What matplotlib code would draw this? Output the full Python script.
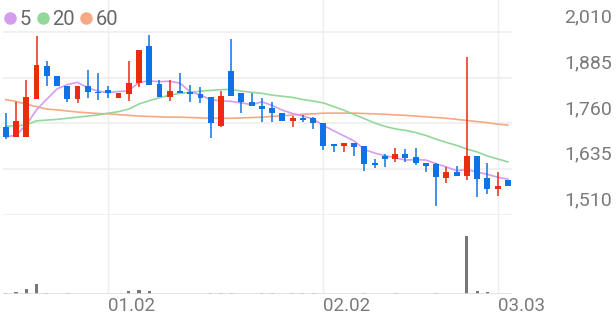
import numpy as np
import matplotlib
matplotlib.use('Agg')
import matplotlib.pyplot as plt
from matplotlib.lines import Line2D
from matplotlib.transforms import blended_transform_factory, offset_copy

plt.rcParams['font.family'] = ['Roboto', 'DejaVu Sans']

# daily candles (open, high, low, close)
opens = [1750, 1723, 1723, 1827, 1917, 1889, 1862, 1827, 1862, 1846,
         1851, 1829, 1840, 1870, 1971, 1867, 1832, 1848, 1846, 1840,
         1832, 1753, 1903, 1843, 1818, 1807, 1802, 1788, 1767, 1775,
         1775, 1761, 1704, 1698, 1706, 1698, 1652, 1671, 1663, 1676,
         1668, 1652, 1649, 1611, 1627, 1616, 1671, 1611, 1581, 1606]
highs = [1788, 1818, 1878, 1998, 1930, 1889, 1862, 1862, 1906, 1898,
         1862, 1843, 1930, 1960, 2001, 1878, 1878, 1898, 1865, 1859,
         1832, 1848, 1990, 1843, 1843, 1829, 1818, 1788, 1780, 1783,
         1777, 1761, 1704, 1706, 1706, 1698, 1663, 1676, 1693, 1690,
         1693, 1652, 1652, 1641, 1644, 1941, 1671, 1652, 1627, 1606]
lows = [1717, 1723, 1723, 1827, 1862, 1862, 1818, 1816, 1829, 1824,
        1829, 1829, 1821, 1859, 1865, 1832, 1821, 1843, 1818, 1816,
        1720, 1750, 1835, 1788, 1807, 1764, 1764, 1767, 1750, 1764,
        1745, 1687, 1682, 1682, 1671, 1630, 1638, 1641, 1655, 1655,
        1646, 1627, 1535, 1597, 1616, 1606, 1559, 1567, 1562, 1589]
closes = [1723, 1767, 1832, 1919, 1889, 1862, 1827, 1862, 1846, 1843,
          1843, 1843, 1870, 1960, 1865, 1832, 1848, 1843, 1840, 1829,
          1761, 1835, 1835, 1818, 1807, 1799, 1788, 1767, 1775, 1769,
          1761, 1698, 1698, 1706, 1696, 1649, 1646, 1663, 1676, 1666,
          1652, 1644, 1614, 1627, 1616, 1671, 1608, 1581, 1589, 1589]
volumes = [10, 35, 90, 175, 18, 8, 15, 8, 8, 6,
           6, 8, 50, 70, 55, 8, 8, 8, 8, 8,
           18, 18, 25, 8, 8, 15, 15, 8, 12, 12,
           12, 8, 6, 6, 8, 15, 6, 6, 15, 6,
           6, 6, 12, 6, 6, 1000, 50, 40, 5, 5]

ma5 = [1723, 1728, 1756, 1797, 1826, 1854, 1866, 1872, 1857, 1848,
       1844, 1847, 1849, 1872, 1876, 1874, 1875, 1870, 1846, 1838,
       1824, 1822, 1820, 1816, 1811, 1819, 1809, 1796, 1787, 1780,
       1772, 1754, 1740, 1726, 1712, 1689, 1679, 1672, 1666, 1660,
       1661, 1660, 1650, 1641, 1631, 1634, 1627, 1621, 1613, 1608]
ma20 = [1753, 1753, 1756, 1767, 1769, 1771, 1774, 1777, 1780, 1783,
        1788, 1792, 1799, 1813, 1822, 1830, 1837, 1842, 1845, 1848,
        1850, 1852, 1853, 1848, 1845, 1842, 1837, 1834, 1831, 1825,
        1821, 1816, 1806, 1796, 1784, 1773, 1761, 1752, 1745, 1741,
        1735, 1727, 1717, 1708, 1700, 1690, 1682, 1671, 1663, 1655]
ma60 = [1825, 1820, 1812, 1806, 1799, 1797, 1794, 1791, 1789, 1787,
        1786, 1784, 1782, 1780, 1779, 1778, 1777, 1777, 1776, 1775,
        1774, 1774, 1774, 1775, 1776, 1777, 1779, 1781, 1783, 1785,
        1786, 1788, 1788, 1788, 1788, 1787, 1786, 1785, 1783, 1782,
        1780, 1778, 1776, 1774, 1771, 1768, 1765, 1762, 1758, 1755]

price_ticks = [1510, 1635, 1760, 1885, 2010]
date_pos = [10, 31, 48]
date_labels = ['01.02', '02.02', '03.03']

RED = '#ea2c10'
BLUE = '#0f72e5'
GRID = '#eeeeee'
TXT = '#7a7a7a'

W, H = 616, 321
fig = plt.figure(figsize=(W / 100, H / 100), dpi=100)
ax = fig.add_axes([3 / W, (H - 215) / H, 509 / W, 215 / H])
axv = fig.add_axes([3 / W, (H - 294) / H, 509 / W, 79 / H])

x = np.arange(len(closes))
o = np.array(opens)
c = np.array(closes)
colors = [RED if cc > oo else BLUE for oo, cc in zip(o, c)]

ax.vlines(x, lows, highs, colors=colors, linewidth=1.1, zorder=3)
bottoms = np.minimum(o, c)
heights = np.maximum(np.abs(c - o), 3)
ax.bar(x, heights, bottom=bottoms, width=0.58, color=colors, zorder=4)

ax.plot(x, ma60, color='#f7a884', lw=1.2, zorder=2)
ax.plot(x, ma20, color='#93d89b', lw=1.2, zorder=2)
ax.plot(x, ma5, color='#d59df0', lw=1.2, zorder=2)

ax.set_xlim(-0.27, 49.4)
ax.set_ylim(1510, 1510 + 215 * 125 / 45.8)
for v in price_ticks:
    ax.axhline(v, color=GRID, lw=1.2, zorder=0)
for p in date_pos:
    ax.axvline(p, color=GRID, lw=1, zorder=0)
ax.set_xticks([])
ax.set_yticks([])
for s in ax.spines.values():
    s.set_visible(False)

# price labels on the right, sitting above each grid line
tr = offset_copy(blended_transform_factory(fig.transFigure, ax.transData),
                 fig=fig, y=10.4, units='points')
for v in price_ticks:
    ax.text(612 / W, v, f'{v:,}', transform=tr, ha='right', va='center',
            fontsize=14, color=TXT, clip_on=False)

# volume
axv.bar(x, volumes, width=0.3, color='#777777')
axv.set_xlim(ax.get_xlim())
axv.set_ylim(0, max(volumes) * 79 / 58)
axv.axhline(0, color='#dddddd', lw=1.2)
for p in date_pos:
    axv.axvline(p, color=GRID, lw=1, zorder=0)
axv.set_xticks([])
axv.set_yticks([])
for s in axv.spines.values():
    s.set_visible(False)

trx = blended_transform_factory(axv.transData, fig.transFigure)
for p, lab in zip(date_pos, date_labels):
    axv.text(p, (H - 306) / H, lab, transform=trx, ha='left', va='center',
             fontsize=13.5, color=TXT, clip_on=False)

handles = [Line2D([], [], ls='', marker='o', ms=8, color=col)
           for col in ['#d59df0', '#93d89b', '#f7a884']]
fig.legend(handles, ['5', '20', '60'], loc='upper left',
           bbox_to_anchor=(-0.012, 1.005), ncol=3, frameon=False,
           handlelength=0.55, handletextpad=0.2, columnspacing=0.3,
           fontsize=14.5, labelcolor='#666666', borderaxespad=0.2)

fig.savefig('out.png', dpi=100)
